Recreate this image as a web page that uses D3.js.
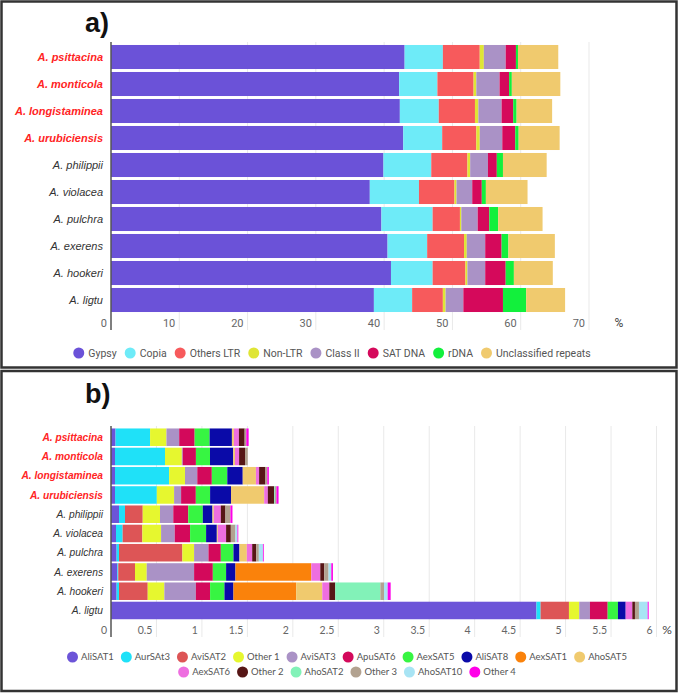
<!DOCTYPE html>
<html>
<head>
<meta charset="utf-8">
<script src="https://cdn.jsdelivr.net/npm/d3@7/dist/d3.min.js"></script>
<style>
  body { margin: 0; background: #fff; }
  svg { display: block; }
</style>
</head>
<body>
<div id="chart"></div>
<script>
// species, top to bottom
const species = ["A. psittacina", "A. monticola", "A. longistaminea", "A. urubiciensis", "A. philippii",
  "A. violacea", "A. pulchra", "A. exerens", "A. hookeri", "A. ligtu"];
const highlighted = ["A. psittacina", "A. monticola", "A. longistaminea", "A. urubiciensis"];

// panel a - repeat classes (% of genome)
const repeatTypes = ["Gypsy", "Copia", "Others LTR", "Non-LTR", "Class II", "SAT DNA", "rDNA", "Unclassified repeats"];
const repeatColors = ["#6b52d8", "#6eebf8", "#f75a5c", "#dfe535", "#aa92c6", "#d5095b", "#12f03c", "#f0ca6e"];
const gypsy        = [43.0, 42.2, 42.3, 42.8, 39.9, 37.9, 39.6, 40.5, 41.0, 38.5];
const copia        = [5.6, 5.6, 5.7, 5.7, 7.0, 7.2, 7.5, 5.8, 6.1, 5.6];
const othersLtr    = [5.4, 5.3, 5.3, 5.0, 5.3, 5.2, 4.0, 5.4, 4.8, 4.5];
const nonLtr       = [0.6, 0.4, 0.5, 0.5, 0.4, 0.3, 0.2, 0.4, 0.3, 0.4];
const classII      = [3.2, 3.4, 3.4, 3.3, 2.6, 2.3, 2.4, 2.7, 2.6, 2.6];
const satDna       = [1.5, 1.4, 1.7, 1.9, 1.3, 1.4, 1.7, 2.4, 3.0, 5.8];
const rDna         = [0.3, 0.4, 0.5, 0.5, 0.9, 0.6, 1.3, 1.0, 1.2, 3.4];
const unclassified = [5.9, 7.1, 5.2, 6.0, 6.4, 6.1, 6.5, 6.8, 5.7, 5.7];
const ticksA = [0, 10, 20, 30, 40, 50, 60, 70];

// panel b - satellite families (% of genome)
const satFamilies = ["AliSAT1", "AurSAt3", "AviSAT2", "Other 1", "AviSAT3", "ApuSAT6", "AexSAT5", "AliSAT8",
  "AexSAT1", "AhoSAT5", "AexSAT6", "Other 2", "AhoSAT2", "Other 3", "AhoSAT10", "Other 4"];
const satColors = ["#6c54d8", "#1fe1f8", "#dd5556", "#e6f72f", "#aa92c6", "#d3095b", "#37f542", "#0a0aa8",
  "#fa820b", "#f0ca6e", "#ee6ee0", "#561616", "#82f2b8", "#b2a290", "#a8e4f4", "#ff00e8"];
const satPsittacina    = [0.05, 0.38, 0, 0.18, 0.14, 0.17, 0.165, 0.245, 0, 0.022, 0.055, 0.063, 0, 0.018, 0, 0.026];
const satMonticola     = [0.044, 0.55, 0, 0.185, 0.01, 0.145, 0.155, 0.255, 0, 0.02, 0.045, 0.065, 0, 0.03, 0, 0];
const satLongistaminea = [0.044, 0.595, 0, 0.175, 0.135, 0.16, 0.17, 0.17, 0, 0.145, 0.035, 0.07, 0, 0.02, 0, 0.017];
const satUrubiciensis  = [0.044, 0.46, 0, 0.19, 0.077, 0.162, 0.157, 0.23, 0, 0.365, 0.04, 0.07, 0.01, 0.015, 0, 0.023];
const satPhilippii     = [0.088, 0.066, 0.195, 0.19, 0.146, 0.165, 0.16, 0.106, 0, 0.015, 0.077, 0.051, 0, 0.055, 0, 0.022];
const satViolacea      = [0.055, 0.073, 0.217, 0.206, 0.15, 0.169, 0.176, 0.118, 0, 0.011, 0.091, 0.052, 0, 0.051, 0.022, 0.009];
const satPulchra       = [0.062, 0.026, 0.697, 0.129, 0.158, 0.136, 0.139, 0.066, 0, 0.081, 0.059, 0.044, 0, 0.029, 0.045, 0.009];
const satExerens       = [0.07, 0.01, 0.184, 0.129, 0.521, 0.206, 0.146, 0.103, 0.834, 0, 0.099, 0.044, 0, 0.047, 0.03, 0.018];
const satHookeri       = [0.062, 0.026, 0.316, 0.183, 0.346, 0.157, 0.158, 0.099, 0.69, 0.287, 0.077, 0.066, 0.496, 0.04, 0.04, 0.033];
const satLigtu         = [4.68, 0.045, 0.312, 0.113, 0.118, 0.195, 0.113, 0.085, 0, 0, 0.073, 0.029, 0, 0.044, 0.096, 0.011];
const ticksB = [0, 0.5, 1, 1.5, 2, 2.5, 3, 3.5, 4, 4.5, 5, 5.5, 6];

const width = 678, height = 693;

const svg = d3.select("#chart")
    .append("svg")
    .attr("width", width)
    .attr("height", height);

// frames
svg.append("rect")
    .attr("x", 1.5).attr("y", 1.5).attr("width", 675).attr("height", 366)
    .attr("fill", "none").attr("stroke", "#333").attr("stroke-width", 2.5);
svg.append("rect")
    .attr("x", 1.5).attr("y", 371).attr("width", 675).attr("height", 320)
    .attr("fill", "none").attr("stroke", "#333").attr("stroke-width", 2.5);

const tableA = species.map((s, i) => {
  const row = {species: s};
  [gypsy, copia, othersLtr, nonLtr, classII, satDna, rDna, unclassified]
      .forEach((arr, k) => row[repeatTypes[k]] = arr[i]);
  return row;
});

const satRows = [satPsittacina, satMonticola, satLongistaminea, satUrubiciensis, satPhilippii,
  satViolacea, satPulchra, satExerens, satHookeri, satLigtu];
const tableB = species.map((s, i) => {
  const row = {species: s};
  satFamilies.forEach((f, k) => row[f] = satRows[i][k]);
  return row;
});

function drawPanel(cfg) {
  const g = svg.append("g");

  g.append("text")
      .text(cfg.title)
      .attr("x", 85).attr("y", cfg.titleY)
      .attr("font-family", "Liberation Sans, Arial, sans-serif")
      .attr("font-weight", 700)
      .attr("font-size", "27px")
      .attr("fill", "#111");

  const x = d3.scaleLinear().domain([0, cfg.max]).range([111, cfg.xEnd]);
  const y = d3.scaleBand()
      .domain(species)
      .range(cfg.yRange)
      .paddingInner(cfg.pad)
      .paddingOuter(cfg.pad / 2);

  // grid
  g.selectAll(".grid")
      .data(cfg.ticks.slice(1))
      .join("line")
      .attr("x1", d => x(d)).attr("x2", d => x(d))
      .attr("y1", cfg.axisTop).attr("y2", cfg.axisBottom)
      .attr("stroke", "#e9e9e9").attr("stroke-width", 1);

  const stacked = d3.stack().keys(cfg.keys)(cfg.table);
  const color = d3.scaleOrdinal().domain(cfg.keys).range(cfg.colors);

  g.selectAll(".series")
      .data(stacked)
      .join("g")
      .attr("fill", d => color(d.key))
      .selectAll("rect")
      .data(d => d.filter(p => p[1] - p[0] > 0))
      .join("rect")
      .attr("x", p => x(p[0]))
      .attr("y", p => y(p.data.species))
      .attr("width", p => x(p[1]) - x(p[0]))
      .attr("height", y.bandwidth());

  // y axis line
  g.append("line")
      .attr("x1", 111).attr("x2", 111)
      .attr("y1", cfg.axisTop).attr("y2", cfg.axisBottom)
      .attr("stroke", "#555").attr("stroke-width", 1.5);

  // category labels
  g.selectAll(".cat")
      .data(species)
      .join("text")
      .attr("x", 103)
      .attr("y", d => y(d) + y.bandwidth() / 2)
      .attr("dy", "0.35em")
      .attr("text-anchor", "end")
      .attr("font-family", "Liberation Sans, Arial, sans-serif")
      .attr("font-style", "italic")
      .attr("font-size", cfg.catSize)
      .attr("font-weight", d => highlighted.includes(d) ? 700 : 400)
      .attr("fill", d => highlighted.includes(d) ? "#ff2424" : "#333")
      .text(d => d);

  // tick labels
  g.selectAll(".tick")
      .data(cfg.ticks)
      .join("text")
      .attr("x", d => x(d) - 4)
      .attr("y", cfg.tickY)
      .attr("text-anchor", "end")
      .attr("font-family", cfg.font)
      .attr("font-size", cfg.tickSize)
      .attr("fill", "#666")
      .text(d => d);

  g.append("text")
      .attr("x", cfg.pctX).attr("y", cfg.tickY)
      .attr("text-anchor", "middle")
      .attr("font-family", cfg.font)
      .attr("font-size", "12px")
      .attr("fill", "#444")
      .text("%");

  // legend, centred rows
  cfg.legendRows.forEach((keys, r) => {
    const lg = g.append("g");
    let cx = 0;
    keys.forEach(k => {
      lg.append("circle")
          .attr("cx", cx + 5.5).attr("cy", 0).attr("r", 5.5)
          .attr("fill", color(k));
      const t = lg.append("text")
          .attr("x", cx + cfg.legendPad).attr("y", 0).attr("dy", "0.35em")
          .attr("font-family", cfg.font)
          .attr("font-size", cfg.legendSize)
          .attr("fill", "#555")
          .text(k);
      cx += cfg.legendPad + t.node().getComputedTextLength() + cfg.legendGap;
    });
    const w = cx - cfg.legendGap;
    lg.attr("transform", `translate(${cfg.legendCenter - w / 2},${cfg.legendY + r * cfg.legendStep})`);
  });
}

drawPanel({
  title: "a)", titleY: 32,
  max: 70, xEnd: 589, ticks: ticksA,
  yRange: [43.5, 313.5], pad: 0.11,
  axisTop: 42, axisBottom: 330,
  keys: repeatTypes, colors: repeatColors, table: tableA,
  catSize: "11px", font: "Roboto, sans-serif", tickSize: "11px",
  tickY: 327, pctX: 619,
  legendRows: [repeatTypes], legendCenter: 332, legendY: 353, legendStep: 0,
  legendSize: "10.5px", legendGap: 8, legendPad: 15
});

drawPanel({
  title: "b)", titleY: 403,
  max: 6, xEnd: 656.5, ticks: ticksB,
  yRange: [427.6, 620.1], pad: 0.09,
  axisTop: 426, axisBottom: 637,
  keys: satFamilies, colors: satColors, table: tableB,
  catSize: "10.2px", font: "Lato, sans-serif", tickSize: "10.5px",
  tickY: 634, pctX: 667,
  legendRows: [satFamilies.slice(0, 10), satFamilies.slice(10)], legendCenter: 347, legendY: 657, legendStep: 15,
  legendSize: "9.5px", legendGap: 7, legendPad: 14
});
</script>
</body>
</html>
